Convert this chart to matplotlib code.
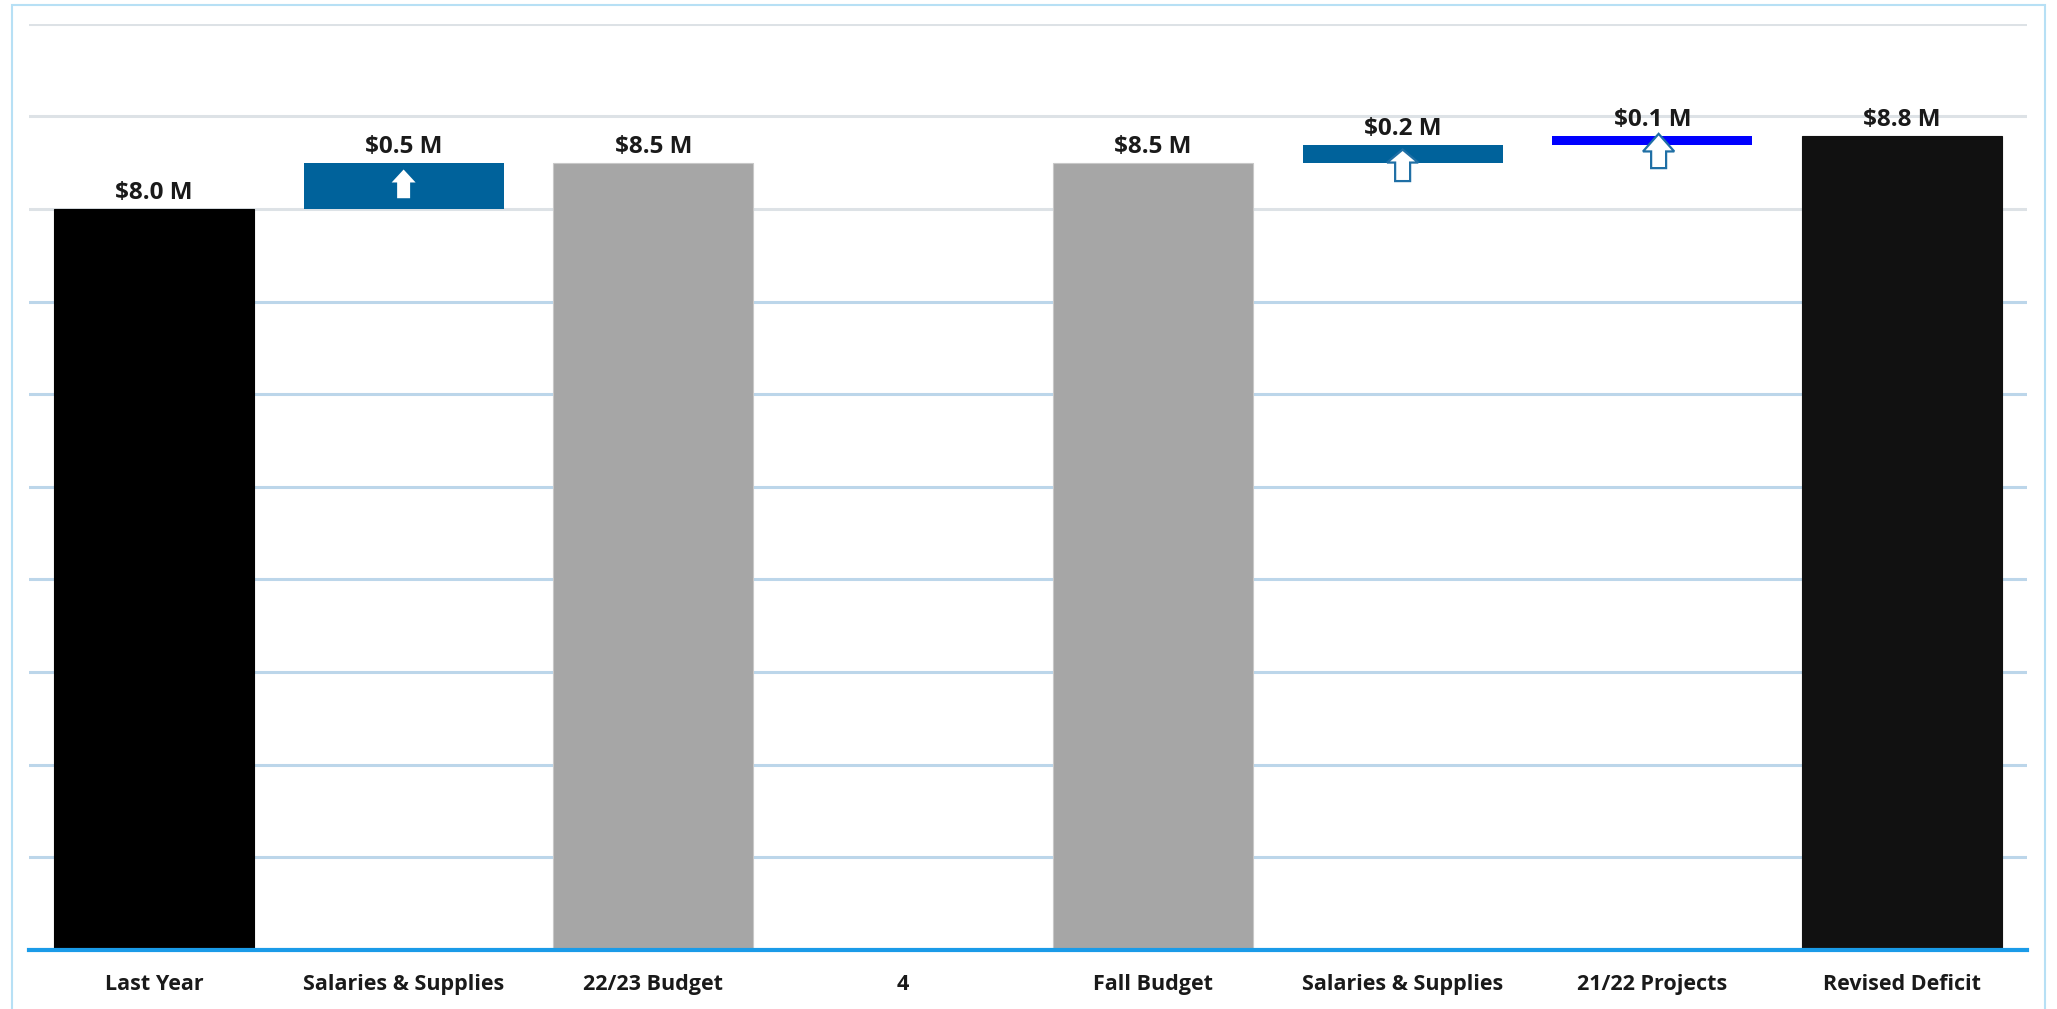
import matplotlib
matplotlib.use("Agg")
import matplotlib.pyplot as plt
from matplotlib.patches import Rectangle

# Deficit bridge, values in $M
categories = ["Last Year", "Salaries & Supplies", "22/23 Budget", "4",
              "Fall Budget", "Salaries & Supplies", "21/22 Projects", "Revised Deficit"]
totals = {0: 8.0, 2: 8.49, 4: 8.49, 7: 8.79}
steps = {1: 0.49, 5: 0.2, 6: 0.1}
y_ticks = [0, 1, 2, 3, 4, 5, 6, 7, 8, 9, 10]

bar_colors = {0: "#000000", 1: "#00629b", 2: "#a6a6a6", 4: "#a6a6a6",
              5: "#00629b", 6: "#0000ff", 7: "#111111"}

W, H = 2057, 1009
fig = plt.figure(figsize=(W / 100, H / 100), dpi=100)
ax = fig.add_axes([29 / W, 1 - 950 / H, (2027 - 29) / W, (950 - 23.6) / H])

plt.rcParams["font.family"] = ["Open Sans", "DejaVu Sans"]
tick_font = dict(family=["Open Sans", "DejaVu Sans"], weight="bold", size=15.5, color="#1a1a1a")
value_font = dict(tick_font, size=17.5)

# bottoms of the floating steps follow the running total
bottoms = {}
running = totals[0]
for i in range(len(categories)):
    if i in totals:
        running = totals[i]
    elif i in steps:
        bottoms[i] = running
        running += steps[i]

tops = {}
for i, v in totals.items():
    ax.bar(i, v, width=0.8, color=bar_colors[i],
           edgecolor="#c8c8c8" if bar_colors[i] == "#a6a6a6" else bar_colors[i],
           linewidth=0.8, zorder=3)
    tops[i] = v
    ax.annotate(f"${v:.1f} M", (i, v), xytext=(0, 3), textcoords="offset points",
                ha="center", va="bottom", zorder=5, **value_font)
for i, v in steps.items():
    ax.bar(i, v, bottom=bottoms[i], width=0.8, color=bar_colors[i], linewidth=0, zorder=3)
    tops[i] = bottoms[i] + v
    ax.annotate(f"${v:.1f} M", (i, tops[i]), xytext=(0, 3), textcoords="offset points",
                ha="center", va="bottom", zorder=5, **value_font)


def up_arrow(x, tip, length, head_len, head_w, shaft_w, face, edge, lw):
    xs = [x, x + head_w / 2, x + shaft_w / 2, x + shaft_w / 2,
          x - shaft_w / 2, x - shaft_w / 2, x - head_w / 2, x]
    ys = [tip, tip - head_len, tip - head_len, tip - length,
          tip - length, tip - head_len, tip - head_len, tip]
    ax.fill(xs, ys, facecolor=face, edgecolor=edge, linewidth=lw, zorder=4,
            joinstyle="miter")


# arrows on the step bars: (index, tip offset from bar top, x shift)
up_arrow(1, tops[1] - 0.065, 0.31, 0.14, 0.096, 0.052, "white", "white", 0)
up_arrow(5, tops[5] - 0.05, 0.34, 0.14, 0.125, 0.06, "white", "#1f6fa5", 1.6)
up_arrow(6 + 0.025, tops[6] + 0.02, 0.37, 0.19, 0.125, 0.06, "white", "#1f6fa5", 1.6)

ax.set_xlim(-0.5, len(categories) - 0.5)
ax.set_ylim(0, 10)
ax.set_yticks(y_ticks)
ax.set_yticklabels([])
ax.tick_params(axis="y", length=0)
ax.set_xticks(range(len(categories)))
ax.set_xticklabels(categories)
for lbl in ax.get_xticklabels():
    lbl.set(**tick_font)
ax.tick_params(axis="x", length=0, pad=17)

for t in y_ticks[1:]:
    ax.axhline(t, color="#dde2e6" if t >= 8 else "#bcd6ea", linewidth=2.2, zorder=1)

for s in ["top", "right", "left"]:
    ax.spines[s].set_visible(False)
ax.spines["bottom"].set_color("#1a9be8")
ax.spines["bottom"].set_linewidth(3)
ax.spines["bottom"].set_zorder(4)

fig.patches.append(Rectangle((12 / W, -0.02), (2045 - 12) / W, 1.02 - 5 / H,
                             transform=fig.transFigure, fill=False,
                             edgecolor="#b7e0f5", linewidth=1.5))

fig.savefig("out.png", dpi=100, facecolor="white")
